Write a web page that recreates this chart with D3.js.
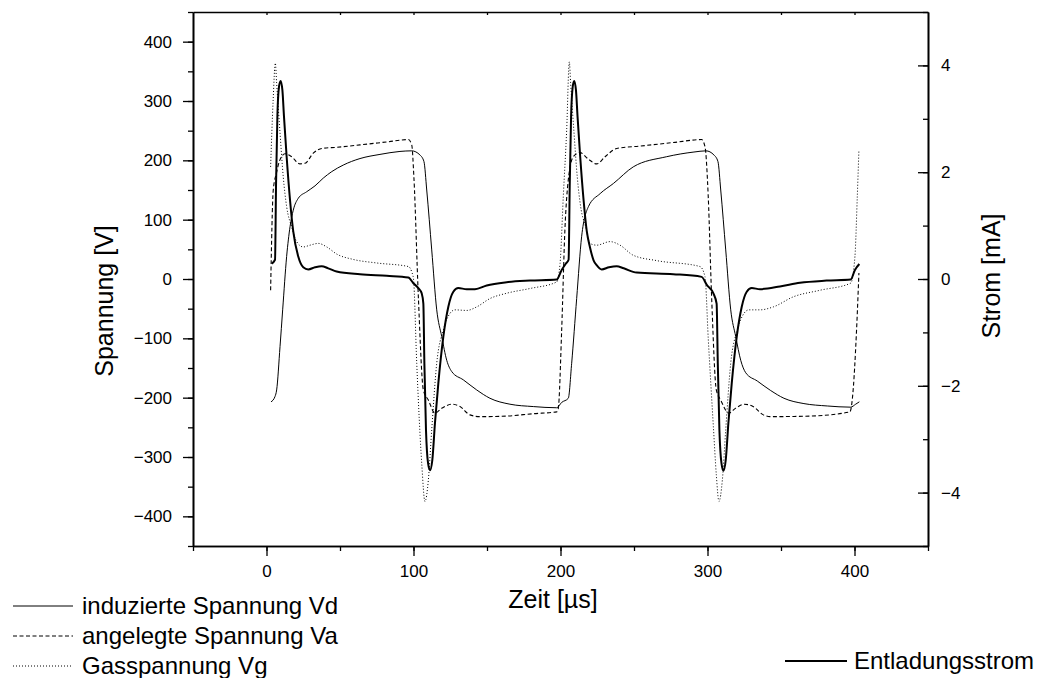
<!DOCTYPE html>
<html>
<head>
<meta charset="utf-8">
<script src="https://cdn.jsdelivr.net/npm/d3@7"></script>
<style>
  body { margin: 0; background: #fff; }
  text { font-family: "Liberation Sans", Arial, sans-serif; fill: #000; }
</style>
</head>
<body>
<div class="chart"></div>
<script>
// time in µs, voltage in V (left axis), current in mA (right axis)
var vdData = [
  [3.1,-207],[5.8,-198],[6.9,-187],[9.2,-114],[11,-52],[13.7,38],[16,88],[18.2,116],[21.6,136],
  [27.3,147],[33,157],[38.6,170],[44.4,181],[52.2,192],[63.6,203],[77.2,210],[90.8,215],[98.8,216],
  [104.4,209],[107.1,198],[109,150],[112.4,49],[115.8,-52],[119.2,-97],[122.6,-137],[126,-156],
  [133.9,-170],[143,-187],[152,-201],[165.6,-211],[181.5,-215],[197.4,-217],[200.8,-208],
  [205.3,-201],[207.6,-142],[211,-33],[214.4,72],[219,122],[227,144],[236,161],[249.5,189],
  [272,206],[290.8,214],[299,216],[304.4,209],[307.1,198],[309,150],[312.4,49],[315.8,-52],
  [319.2,-97],[322.6,-137],[326,-158],[333.9,-172],[343,-188],[352,-201],[365.6,-210],
  [381.5,-214],[397.4,-216],[400.8,-211],[403.3,-207]
];

var vaData = [
  [2.8,-19],[4.6,150],[6.9,180],[9,200],[12.6,211],[17.1,206],[22.8,194],[26.2,195],[31.8,212],
  [37.6,220],[47.8,222],[63.6,226],[81.8,231],[96.5,235],[98.8,226],[100.3,170],[103.3,-30],
  [106.7,-187],[110.1,-204],[114.6,-226],[119.2,-218],[126,-211],[131.6,-215],[138.4,-229],
  [145.2,-232],[163.4,-231],[181.5,-227],[197.4,-224],[198.5,-218],[200.8,-86],[203,83],
  [205.3,167],[208.7,206],[213.3,213],[219,202],[224.6,194],[230.3,206],[238.2,220],[254,224],
  [276.7,230],[296,235],[298.3,223],[300.5,139],[302.8,-30],[306,-187],[309,-204],[314.5,-226],
  [319,-218],[325,-211],[331,-215],[338,-229],[342.5,-232],[369.7,-231],[396.9,-224],
  [398.7,-198],[401.4,-86],[403,10]
];

var vgData = [
  [2.8,189],[4.5,300],[6,364],[6.9,330],[9.2,246],[11.4,172],[13.7,122],[17.1,88],[20.5,63],
  [25,54],[29.6,57],[35.2,60],[41,54],[47.8,42],[59,33],[75,27],[96.5,21],[98.8,12],[100,0],
  [102.2,-142],[105.6,-311],[107.8,-375],[110.1,-339],[112.4,-254],[115.8,-142],[120.3,-86],
  [124.8,-58],[128.2,-52],[136.2,-53],[143,-47],[152,-33],[163.4,-24],[179.3,-16],[197.4,-5],
  [199.7,26],[201.9,139],[204.2,251],[206,366],[206.9,330],[209.2,246],[211.4,172],[213.7,122],
  [217.1,88],[220,60],[224.6,57],[233.7,63],[240.5,57],[249.5,40],[265.4,31],[294.9,21],
  [298.3,4],[300.5,-100],[304,-249],[306,-330],[307.8,-375],[310.1,-339],[312.4,-254],
  [315.8,-142],[320.3,-86],[324.8,-58],[328.2,-52],[335.7,-52],[344.8,-47],[358.4,-30],
  [376.5,-19],[397.4,-7],[400.3,38],[401.9,139],[403,217]
];

var iData = [
  [3.5,0.29],[5.8,0.36],[6.5,1.79],[7.4,3.04],[8.5,3.6],[9.6,3.71],[10.8,3.54],[11.9,3.04],
  [13.7,2.29],[16,1.48],[18.2,0.89],[21.6,0.42],[25,0.22],[28.4,0.18],[33,0.22],[37.5,0.24],
  [42,0.2],[47.7,0.14],[63.6,0.09],[81.8,0.06],[96.5,0.03],[99.9,-0.08],[103.3,-0.17],
  [105.6,-0.27],[106.7,-0.46],[107.4,-1.58],[108.5,-2.83],[109.9,-3.45],[111.2,-3.58],
  [112.8,-3.39],[114.6,-2.7],[116.9,-1.95],[120.3,-1.08],[123.7,-0.52],[127.1,-0.24],
  [130.5,-0.17],[136.2,-0.19],[141.8,-0.19],[149.8,-0.12],[163.4,-0.06],[179.3,-0.03],
  [197.4,-0.01],[200.8,0.17],[203.7,0.29],[205.5,0.36],[206.3,1.79],[207.2,3.04],[208.3,3.6],
  [209.3,3.71],[210.5,3.54],[211.6,3.04],[213.4,2.29],[215.7,1.48],[217.9,0.89],[220,0.6],
  [222.5,0.35],[224.6,0.26],[228,0.18],[233,0.22],[238.2,0.24],[243,0.2],[251.8,0.12],
  [276.7,0.09],[296,0.04],[299.5,-0.11],[304,-0.27],[306.2,-0.46],[307,-1.58],[308.1,-2.83],
  [309.5,-3.45],[310.8,-3.59],[312.4,-3.39],[314.2,-2.7],[316.5,-1.95],[319.9,-1.08],
  [323.3,-0.52],[326.7,-0.24],[330.1,-0.17],[335.7,-0.19],[349.3,-0.14],[362.9,-0.07],
  [381,-0.03],[397.4,-0.01],[400.3,0.17],[403.3,0.28]
];

var xTicks = [0, 100, 200, 300, 400];
var vTicks = [-400, -300, -200, -100, 0, 100, 200, 300, 400];
var iTicks = [-4, -2, 0, 2, 4];

var legendLeft = ["induzierte Spannung Vd", "angelegte Spannung Va", "Gasspannung Vg"];
var legendRight = ["Entladungsstrom"];

var margin = { top: 12, right: 110, bottom: 132, left: 193 },
    width = 1038 - margin.left - margin.right,
    height = 678 - margin.top - margin.bottom;

var x = d3.scaleLinear().domain([-50, 450]).range([0, width]);
var y = d3.scaleLinear().domain([-450, 450]).range([height, 0]);
var y2 = d3.scaleLinear().domain([-5, 5]).range([height, 0]);

var svg = d3.select(".chart")
    .append("svg")
    .attr("width", 1038)
    .attr("height", 678)
    .append("g")
    .attr("transform", "translate(" + margin.left + "," + margin.top + ")");

// minor ticks first, major ticks with labels on top
svg.append("g")
    .attr("transform", "translate(0," + height + ")")
    .call(d3.axisBottom(x).tickValues(d3.range(-50, 451, 50)).tickSize(5).tickSizeOuter(0).tickFormat(""));
svg.append("g")
    .attr("class", "axis")
    .attr("transform", "translate(0," + height + ")")
    .call(d3.axisBottom(x).tickValues(xTicks).tickSize(10).tickSizeOuter(0).tickPadding(9));

svg.append("g")
    .call(d3.axisTop(x).tickValues(d3.range(0, 401, 50)).tickSize(-3).tickSizeOuter(0).tickFormat(""));

svg.append("g")
    .call(d3.axisLeft(y).tickValues(d3.range(-450, 451, 50)).tickSize(5).tickSizeOuter(0).tickFormat(""));
svg.append("g")
    .attr("class", "axis")
    .call(d3.axisLeft(y).tickValues(vTicks).tickSize(10).tickSizeOuter(0).tickPadding(11));

svg.append("g")
    .attr("transform", "translate(" + width + ",0)")
    .call(d3.axisRight(y2).tickValues(d3.range(-5, 6, 1)).tickSize(-5).tickSizeOuter(0).tickFormat(""));
svg.append("g")
    .attr("class", "axis")
    .attr("transform", "translate(" + width + ",0)")
    .call(d3.axisRight(y2).tickValues(iTicks).tickSize(-10).tickSizeOuter(0).tickPadding(13));

svg.selectAll(".domain").attr("stroke", "#000").attr("stroke-width", 1.6);
svg.selectAll(".tick line").attr("stroke", "#000").attr("stroke-width", 1.3);
svg.selectAll(".axis text")
    .style("font-family", "'Liberation Sans', Arial, sans-serif")
    .style("font-size", "17px");

// curves
var lineV = d3.line()
    .x(function (d) { return x(d[0]); })
    .y(function (d) { return y(d[1]); })
    .curve(d3.curveMonotoneX);

var lineI = d3.line()
    .x(function (d) { return x(d[0]); })
    .y(function (d) { return y2(d[1]); })
    .curve(d3.curveMonotoneX);

svg.append("path").datum(vdData)
    .attr("d", lineV).attr("fill", "none").attr("stroke", "#000").attr("stroke-width", 1);
svg.append("path").datum(vaData)
    .attr("d", lineV).attr("fill", "none").attr("stroke", "#000").attr("stroke-width", 1.1)
    .attr("stroke-dasharray", "4,2.5");
svg.append("path").datum(vgData)
    .attr("d", lineV).attr("fill", "none").attr("stroke", "#000").attr("stroke-width", 1)
    .attr("stroke-dasharray", "1,2");
svg.append("path").datum(iData)
    .attr("d", lineI).attr("fill", "none").attr("stroke", "#000").attr("stroke-width", 2);

// axis titles
svg.append("text")
    .attr("transform", "translate(-80," + 289 + ")rotate(-90)")
    .attr("text-anchor", "middle")
    .style("font-size", "25px")
    .text("Spannung [V]");

svg.append("text")
    .attr("transform", "translate(" + (width + 72) + "," + 264 + ")rotate(-90)")
    .attr("text-anchor", "middle")
    .style("font-size", "25px")
    .text("Strom [mA]");

svg.append("text")
    .attr("x", 553 - margin.left)
    .attr("y", 608 - margin.top)
    .attr("text-anchor", "middle")
    .style("font-size", "25px")
    .text("Zeit [µs]");

// legends
var dashes = [null, "4,2.5", "1,2"];
var legend = d3.select("svg").append("g");
legendLeft.forEach(function (name, i) {
    var ly = 606 + i * 30;
    legend.append("line")
        .attr("x1", 13).attr("x2", 73).attr("y1", ly).attr("y2", ly)
        .attr("stroke", "#000").attr("stroke-width", 1)
        .attr("stroke-dasharray", dashes[i]);
    legend.append("text")
        .attr("x", 82).attr("y", ly + 8)
        .style("font-size", "24px")
        .text(name);
});
legendRight.forEach(function (name) {
    legend.append("line")
        .attr("x1", 785).attr("x2", 847).attr("y1", 661).attr("y2", 661)
        .attr("stroke", "#000").attr("stroke-width", 2);
    legend.append("text")
        .attr("x", 854).attr("y", 669)
        .style("font-size", "24px")
        .text(name);
});
</script>
</body>
</html>
